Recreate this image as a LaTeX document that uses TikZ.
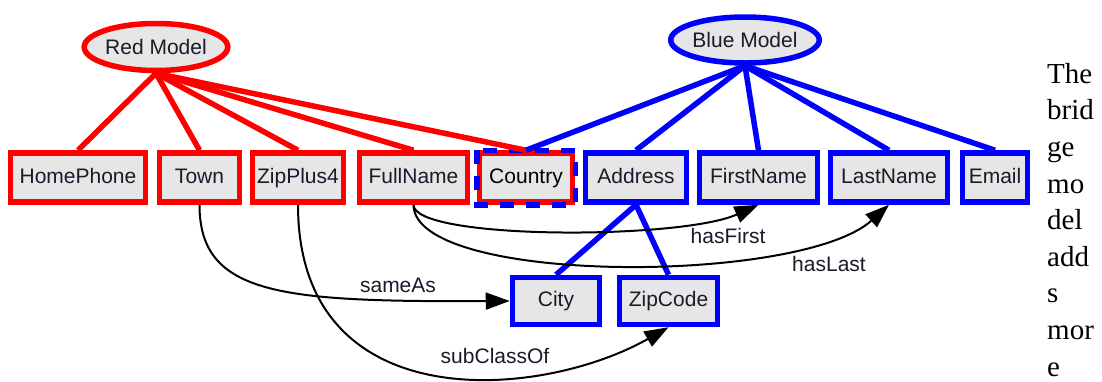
\documentclass[tikz,border=0pt]{standalone}
\usepackage{fontspec}
\setmainfont{Liberation Serif}
\newfontfamily\arial{Liberation Sans}
\usetikzlibrary{shapes.geometric,arrows.meta}
\definecolor{boxgray}{HTML}{E6E6E6}
\definecolor{rd}{HTML}{FF0000}
\definecolor{bl}{HTML}{0000FF}
\definecolor{ink}{HTML}{1A1A2A}
\tikzset{
  box/.style={draw, line width=5.5pt, fill=boxgray, minimum height=49pt, inner sep=0pt,
    text height=15.5pt, text depth=4.5pt,
    font=\arial\fontsize{21}{24}\selectfont, text=ink},
  redbox/.style={box, draw=rd},
  bluebox/.style={box, draw=bl},
  model/.style={ellipse, draw, line width=5.5pt, fill=boxgray, inner sep=0pt,
    font=\arial\fontsize{21}{24}\selectfont, text=ink},
  redline/.style={draw=rd, line width=5.5pt},
  blueline/.style={draw=bl, line width=5.5pt},
  rel/.style={draw=black, line width=2pt, -{Triangle[length=24pt,width=17pt]}},
  lbl/.style={font=\arial\fontsize{21}{24}\selectfont, text=ink, inner sep=0pt},
}
\begin{document}
\begin{tikzpicture}[x=1pt,y=-1pt]
\useasboundingbox (0,0) rectangle (1102,381);

\node[model, draw=rd, minimum width=141pt, minimum height=47pt] (red) at (156,47) {Red Model};
\node[model, draw=bl, minimum width=143pt, minimum height=46pt] (blue) at (745,40) {Blue Model};

\node[redbox, minimum width=135pt] (homephone) at (78,177.5) {HomePhone};
\node[redbox, minimum width=80pt] (town) at (199.5,177.5) {Town};
\node[redbox, minimum width=91pt] (zipplus) at (298,177.5) {ZipPlus4};
\node[redbox, minimum width=108pt] (fullname) at (413.5,177.5) {FullName};
\node[redbox, minimum width=93pt, text=black] (country) at (526,177.5) {Country};
\draw[draw=bl, line width=5.5pt, dash pattern=on 14pt off 12pt] (country.north west) rectangle (country.south east);
\node[bluebox, minimum width=101pt] (address) at (636,177.5) {Address};
\node[bluebox, minimum width=118pt] (firstname) at (758.5,177.5) {FirstName};
\node[bluebox, minimum width=117pt] (lastname) at (889,177.5) {LastName};
\node[bluebox, minimum width=65pt] (email) at (995,177.5) {Email};
\node[bluebox, minimum width=87pt, minimum height=47pt] (city) at (556,301) {City};
\node[bluebox, minimum width=98pt, minimum height=47pt] (zipcode) at (668.5,301) {ZipCode};

\foreach \n in {homephone,town,zipplus,fullname,country}
  \draw[redline] (red.south) -- (\n.north);
\foreach \n in {country,address,firstname,lastname,email}
  \draw[blueline] (blue.south) -- (\n.north);
\draw[blueline] (address.south) -- (city.north);
\draw[blueline] (address.south) -- (zipcode.north);

\draw[rel] (town.south) .. controls (199.5,295) and (280,302) .. (city.west);
\node[lbl] (lsame) at (398,285) {sameAs};
\draw[rel] (zipplus.south) .. controls (298,420) and (540,400) .. (zipcode.south);
\node[lbl] (lsub) at (495,356) {subClassOf};
\draw[rel] (fullname.south) .. controls (413.5,240) and (680,240) .. (firstname.south);
\node[lbl] (lfirst) at (728,236) {hasFirst};
\draw[rel] (fullname.south) .. controls (413.5,285) and (800,285) .. (lastname.south);
\node[lbl] (llast) at (829,264) {hasLast};

\node[anchor=north west, inner sep=0pt, align=left, font=\fontsize{29}{36.6}\selectfont]
  (txt) at (1047,63) {The\\brid\\ge\\mo\\del\\add\\s\\mor\\e};
\end{tikzpicture}
\end{document}
